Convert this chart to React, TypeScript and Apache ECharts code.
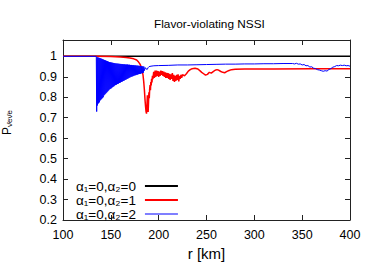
import React, { useEffect, useRef } from "react";
import * as echarts from "echarts";

const titleText = "Flavor-violating NSSI";
const xAxisName = "r [km]";
const yAxisName = "{p|P}{s|\u03BD\u0304e\u03BD\u0304e}";
const legendLabels = ["α\u2081=0,α\u2082=0", "α\u2081=0,α\u2082=1", "α\u2081=0,α\u2082=2"];
const lineColors = ["#000000", "#ff0000", "#0000ff"];
const lineWidths = [1.5, 1.5, 1];
const legendIcons = [
  "path://M0,0M33,13M0,5.5H33V7.5H0Z",
  "path://M0,0M33,13M0,5.5H33V7.5H0Z",
  "path://M0,0M33,13M0,6H33V7H0Z",
];

const xMin = 100;
const xMax = 400;
const xStep = 50;
const yMin = 0.2;
const yMax = 1.08;
const yStep = 0.1;

const blackData: number[][] = [
  [100, 1],
  [400, 1],
];

const redData: number[][] = [
  [100, 1], [135, 1], [150, 0.999], [160, 0.997], [166, 0.995], [170, 0.992],
  [174, 0.988], [177, 0.982], [179, 0.972], [180.5, 0.962], [181.8, 0.948],
  [182.8, 0.93], [183.6, 0.91], [184.4, 0.875], [185.1, 0.835], [185.7, 0.79],
  [186.3, 0.755], [186.8, 0.73], [187.3, 0.72], [187.8, 0.765], [188.2, 0.81],
  [188.6, 0.77], [189, 0.728], [189.4, 0.775], [189.8, 0.825], [190.2, 0.795],
  [190.6, 0.84], [191, 0.86], [191.4, 0.835], [191.8, 0.875], [192.2, 0.858],
  [192.6, 0.89], [193, 0.872], [193.5, 0.905], [194, 0.888], [194.8, 0.925],
  [195.5, 0.895], [196.3, 0.93], [197, 0.9], [197.8, 0.93], [198.5, 0.905],
  [199.3, 0.928], [200, 0.9], [200.8, 0.925], [201.5, 0.905], [202.3, 0.93],
  [203, 0.91], [203.8, 0.928], [204.5, 0.905], [205.3, 0.925], [206, 0.9],
  [206.8, 0.922], [207.5, 0.895], [208.3, 0.92], [209, 0.895], [209.8, 0.918],
  [210.5, 0.89], [211.3, 0.915], [212, 0.885], [212.8, 0.912], [213.5, 0.89],
  [214.3, 0.918], [215, 0.88], [215.8, 0.91], [216.5, 0.875], [217.3, 0.905],
  [218, 0.88], [218.8, 0.91], [219.5, 0.885], [220.3, 0.912], [221, 0.878],
  [221.8, 0.905], [222.5, 0.89], [223.3, 0.91], [224, 0.895], [225, 0.91],
  [227, 0.905], [229, 0.915], [231, 0.928], [233, 0.935], [235, 0.94],
  [238, 0.942], [241, 0.938], [243, 0.93], [245, 0.922], [247, 0.915],
  [249, 0.908], [251, 0.912], [253, 0.922], [255, 0.918], [257, 0.925],
  [259, 0.932], [261, 0.935], [263, 0.932], [265, 0.926], [267, 0.922],
  [269, 0.92], [271, 0.925], [273, 0.93], [276, 0.935], [280, 0.937],
  [290, 0.938], [320, 0.938], [360, 0.939], [400, 0.939],
];

const blueData: number[][] = [
  [100, 1], [134.8, 1], [135.2, 0.73], [135.6, 0.995], [136, 0.76],
  [136.5, 0.995], [137, 0.77], [137.5, 0.993], [138, 0.775], [138.5, 0.992],
  [139, 0.785], [139.5, 0.99], [140, 0.79], [140.5, 0.988], [141, 0.795],
  [141.5, 0.986], [142, 0.8], [142.5, 0.984], [143, 0.81], [143.5, 0.982],
  [144, 0.815], [144.5, 0.98], [145, 0.82], [145.5, 0.978], [146, 0.825],
  [146.5, 0.976], [147, 0.83], [147.5, 0.974], [148, 0.835], [148.5, 0.972],
  [149, 0.84], [149.5, 0.971], [150, 0.842], [150.5, 0.97], [151, 0.846],
  [151.5, 0.969], [152, 0.85], [152.5, 0.968], [153, 0.853], [153.5, 0.967],
  [154, 0.857], [154.5, 0.966], [155, 0.86], [155.5, 0.965], [156, 0.862],
  [156.5, 0.965], [157, 0.865], [157.5, 0.964], [158, 0.867], [158.5, 0.964],
  [159, 0.87], [159.5, 0.963], [160, 0.872], [160.5, 0.963], [161, 0.875],
  [161.5, 0.962], [162, 0.877], [162.5, 0.962], [163, 0.88], [163.5, 0.961],
  [164, 0.882], [164.5, 0.961], [165, 0.885], [165.5, 0.96], [166, 0.887],
  [166.5, 0.96], [167, 0.89], [167.5, 0.96], [168, 0.892], [168.5, 0.959],
  [169, 0.895], [169.5, 0.959], [170, 0.897], [170.5, 0.958], [171, 0.9],
  [171.5, 0.958], [172, 0.901], [172.5, 0.957], [173, 0.903], [173.5, 0.957],
  [174, 0.905], [174.5, 0.956], [175, 0.907], [175.5, 0.956], [176, 0.908],
  [176.5, 0.955], [177, 0.91], [177.5, 0.955], [178, 0.911], [178.5, 0.954],
  [179, 0.913], [179.5, 0.954], [180, 0.914], [180.5, 0.953], [181, 0.915],
  [181.5, 0.953], [182, 0.917], [182.5, 0.952], [183, 0.918], [183.5, 0.951],
  [184, 0.92], [184.5, 0.95], [185, 0.93], [186, 0.945], [187, 0.938],
  [188, 0.936], [189, 0.945], [190, 0.95], [192, 0.952], [195, 0.954],
  [200, 0.955], [210, 0.956], [220, 0.958], [230, 0.958], [240, 0.959],
  [250, 0.96], [260, 0.961], [270, 0.962], [280, 0.962], [290, 0.963],
  [300, 0.963], [310, 0.964], [320, 0.964], [330, 0.965], [340, 0.965],
  [342, 0.963], [344, 0.966], [346, 0.962], [348, 0.963], [350, 0.958],
  [352, 0.96], [354, 0.954], [356, 0.955], [358, 0.948], [360, 0.949],
  [362, 0.942], [364, 0.94], [366, 0.935], [368, 0.933], [370, 0.93],
  [372, 0.927], [374, 0.93], [376, 0.928], [378, 0.936], [380, 0.94],
  [382, 0.947], [384, 0.95], [386, 0.955], [388, 0.954], [390, 0.957],
  [392, 0.955], [394, 0.957], [396, 0.954], [398, 0.955], [400, 0.952],
];

const seriesData = [blackData, redData, blueData];

const FONT = "Liberation Sans, Arial, sans-serif";
const frameColor = "#222";

export default function App() {
  const ref = useRef<HTMLDivElement>(null);

  useEffect(() => {
    if (!ref.current) return;
    document.body.style.margin = "0";
    const chart = echarts.init(ref.current, undefined, { renderer: "svg" });

    const xBase = {
      type: "value" as const,
      min: xMin,
      max: xMax,
      interval: xStep,
      splitLine: { show: false },
      axisLine: { show: true, lineStyle: { color: frameColor, width: 1 } },
      axisTick: { show: true, inside: true, length: 5, lineStyle: { color: frameColor } },
    };
    const yBase = {
      type: "value" as const,
      min: yMin,
      max: yMax,
      interval: yStep,
      splitLine: { show: false },
      axisLine: { show: true, lineStyle: { color: frameColor, width: 1 } },
      axisTick: { show: true, inside: true, length: 5, lineStyle: { color: frameColor } },
    };

    chart.setOption({
      animation: false,
      backgroundColor: "#ffffff",
      textStyle: { fontFamily: FONT },
      title: {
        text: titleText,
        left: 149,
        top: 13,
        textStyle: { fontFamily: FONT, fontSize: 11.8, fontWeight: "normal", color: "#000" },
      },
      grid: { left: 63, right: 24, top: 40, bottom: 42, containLabel: false, outerBoundsMode: "none" },
      legend: {
        orient: "vertical",
        left: 71,
        top: 174,
        align: "right",
        itemWidth: 33,
        itemHeight: 13,
        itemGap: 0,
        selectedMode: false,
        data: legendLabels.map((n, i) => ({ name: n, icon: legendIcons[i] })),
        textStyle: {
          fontFamily: FONT,
          fontSize: 13.5,
          lineHeight: 13,
          color: "#000",
          padding: [0, 4, 0, 0],
        },
      },
      xAxis: [
        {
          ...xBase,
          position: "bottom",
          name: xAxisName,
          nameLocation: "middle",
          nameGap: 16,
          nameTextStyle: { fontFamily: FONT, fontSize: 15, color: "#000" },
          axisLabel: { show: true, margin: 8, fontFamily: FONT, fontSize: 12.5, color: "#000" },
        },
        {
          ...xBase,
          position: "top",
          axisLabel: { show: false },
        },
      ],
      yAxis: [
        {
          ...yBase,
          position: "left",
          name: yAxisName,
          nameLocation: "middle",
          nameRotate: 90,
          nameGap: 50,
          nameTextStyle: {
            fontFamily: FONT,
            color: "#000",
            rich: {
              p: { fontFamily: FONT, fontSize: 12, lineHeight: 12, verticalAlign: "top", color: "#000", padding: [0, 0, 0, 15] },
              s: { fontFamily: FONT, fontSize: 8, lineHeight: 8, verticalAlign: "bottom", color: "#000", padding: [5, 0, 0, 0] },
            },
          },
          axisLabel: {
            show: true,
            margin: 6,
            fontFamily: FONT,
            fontSize: 12.5,
            color: "#000",
            showMaxLabel: false,
            formatter: (v: number) => String(Math.round(v * 10) / 10),
          },
        },
        {
          ...yBase,
          position: "right",
          axisLabel: { show: false },
        },
      ],
      series: seriesData.map((d, i) => ({
        type: "line",
        name: legendLabels[i],
        data: d,
        xAxisIndex: 0,
        yAxisIndex: 0,
        symbol: "none",
        showSymbol: false,
        clip: true,
        silent: true,
        z: 2 + i,
        lineStyle: { color: lineColors[i], width: lineWidths[i] },
        itemStyle: { color: lineColors[i] },
      })),
    });

    return () => chart.dispose();
  }, []);

  return <div ref={ref} style={{ width: 374, height: 262 }} />;
}
